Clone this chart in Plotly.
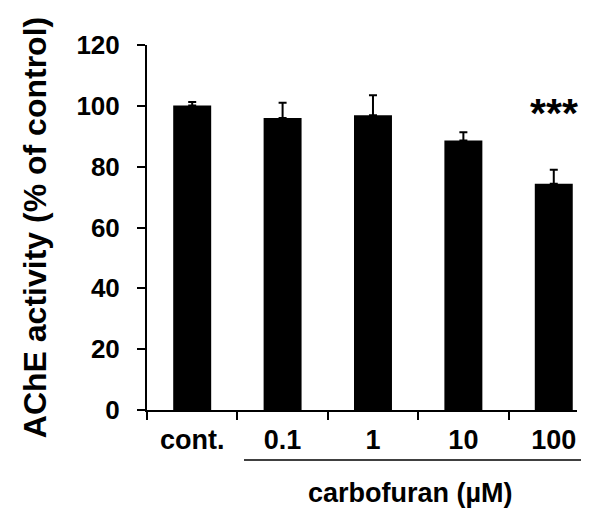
import plotly.graph_objects as go

categories = ["cont.", "0.1", "1", "10", "100"]
activity = [100.1, 96.0, 96.9, 88.6, 74.4]
sem = [1.2, 5.0, 6.6, 2.7, 4.6]
significance = ["", "", "", "", "***"]
y_ticks = [0, 20, 40, 60, 80, 100, 120]
y_title = "AChE activity (% of control)"
x_title = "carbofuran (µM)"

FONT = "Liberation Sans, Arial, Helvetica, sans-serif"

# the page body has an 8px margin; figure is sized/placed to compensate
OFF = 8
W, H = 589 - OFF, 509 - OFF
# plot area in window pixels: x 147..577, y 45..410
ML, MT = 147 - OFF, 45 - OFF
MR = W - (577 - OFF)
MB = H - (410 - OFF)
PW, PH = W - ML - MR, H - MT - MB


def px_x(wx):
    return (wx - OFF - ML) / PW


def px_y(wy):
    return (MT + PH - (wy - OFF)) / PH


fig = go.Figure()
fig.add_trace(go.Bar(
    x=categories, y=activity, width=0.42,
    marker=dict(color="black", line=dict(width=0)),
    error_y=dict(type="data", array=sem, arrayminus=[0] * len(sem), symmetric=False,
                 color="black", thickness=2, width=4),
    hoverinfo="x+y",
))

for i, (v, e, s) in enumerate(zip(activity, sem, significance)):
    if s:
        fig.add_annotation(x=i, y=v + e, xref="x", yref="y", text=s, showarrow=False,
                           xanchor="center", yanchor="middle", yshift=57,
                           font=dict(family=FONT, size=41, color="black", weight="bold"))

# x title and the bracket line under the carbofuran groups
fig.add_annotation(xref="paper", yref="paper", x=px_x(410), y=px_y(493),
                   text=x_title, showarrow=False, xanchor="center", yanchor="middle",
                   font=dict(family=FONT, size=27, color="black", weight="bold"))
fig.add_shape(type="line", xref="paper", yref="paper",
              x0=px_x(244), x1=px_x(589), y0=px_y(460), y1=px_y(460),
              line=dict(color="black", width=1.6))

fig.update_layout(
    width=W, height=H,
    margin=dict(l=ML, r=MR, t=MT, b=MB),
    plot_bgcolor="white", paper_bgcolor="white",
    showlegend=False,
)
fig.update_xaxes(
    type="category", range=[-0.5, 4.257],
    showline=True, linecolor="black", linewidth=2,
    ticks="outside", tickson="boundaries", ticklen=8, tickwidth=2, tickcolor="black",
    tickfont=dict(family=FONT, size=27, color="black", weight="bold"),
    showgrid=False, zeroline=False, ticklabelstandoff=5,
)
fig.update_yaxes(
    range=[0, 120], tickvals=y_ticks,
    showline=True, linecolor="black", linewidth=2,
    ticks="outside", ticklen=8, tickwidth=2, tickcolor="black",
    tickfont=dict(family=FONT, size=26, color="black", weight="bold"),
    showgrid=False, zeroline=False, ticklabelstandoff=12,
    title=dict(text=y_title, standoff=20,
               font=dict(family=FONT, size=32, color="black", weight="bold")),
)

fig.write_html("out.html")
